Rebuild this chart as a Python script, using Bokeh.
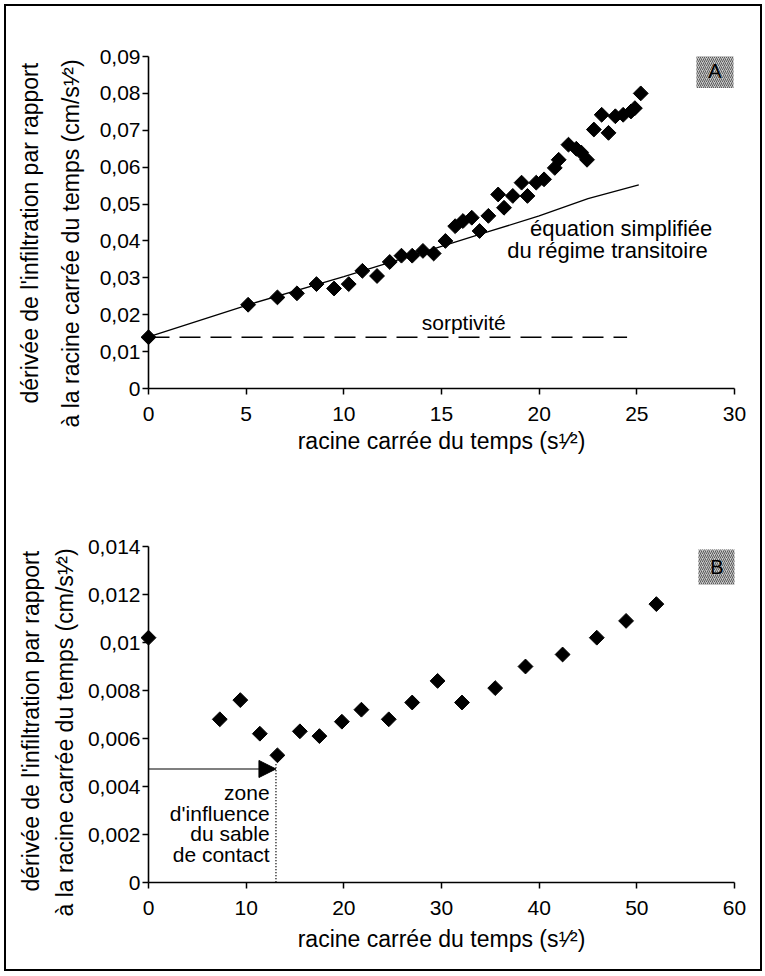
import math
from bokeh.plotting import figure
from bokeh.models import FixedTicker, Label, Arrow, NormalHead, Title
from bokeh.layouts import column
from bokeh.embed import file_html
from bokeh.resources import INLINE

# ---------------- data: panel A ----------------
a_x = [0.0, 5.1, 6.6, 7.6, 8.6, 9.5, 10.25, 10.95, 11.7, 12.35,
       12.95, 13.5, 14.05, 14.6, 15.2, 15.7, 16.1, 16.55, 16.95, 17.4,
       17.9, 18.2, 18.65, 19.1, 19.4, 19.85, 20.25, 20.8, 21.0, 21.5,
       21.9, 22.15, 22.45, 22.8, 23.2, 23.55, 23.9, 24.3, 24.7, 24.9, 25.2]
a_y = [0.0139, 0.0227, 0.0247, 0.0258, 0.0283, 0.0271, 0.0283, 0.0319, 0.0305, 0.0343,
       0.0360, 0.0360, 0.0373, 0.0366, 0.0400, 0.0440, 0.0454, 0.0463, 0.0427, 0.0468,
       0.0526, 0.0490, 0.0522, 0.0558, 0.0522, 0.0558, 0.0567, 0.0598, 0.0620, 0.0661,
       0.0650, 0.0640, 0.0620, 0.0702, 0.0742, 0.0693, 0.0738, 0.0742, 0.0751, 0.0760, 0.0800]
eq_x = [0.0, 5.1, 10.0, 15.0, 17.4, 20.0, 22.5, 25.1]
eq_y = [0.0140, 0.0227, 0.0303, 0.0385, 0.0425, 0.0468, 0.0515, 0.0552]
sorptivity = 0.0139
sorptivity_x_end = 24.5
a_xticks = [0, 5, 10, 15, 20, 25, 30]
a_yticks = [0, 0.01, 0.02, 0.03, 0.04, 0.05, 0.06, 0.07, 0.08, 0.09]
a_ylabels = ["0", "0,01", "0,02", "0,03", "0,04", "0,05", "0,06", "0,07", "0,08", "0,09"]

# ---------------- data: panel B ----------------
b_x = [0.0, 7.3, 9.4, 11.4, 13.2, 15.5, 17.5, 19.8, 21.8, 24.6,
       27.0, 29.6, 32.1, 35.5, 38.6, 42.4, 45.9, 48.9, 52.0]
b_y = [0.0102, 0.0068, 0.0076, 0.0062, 0.0053, 0.0063, 0.0061, 0.0067, 0.0072, 0.0068,
       0.0075, 0.0084, 0.0075, 0.0081, 0.0090, 0.0095, 0.0102, 0.0109, 0.0116]
zone_limit_x = 13.05
zone_arrow_y = 0.00473
b_xticks = [0, 10, 20, 30, 40, 50, 60]
b_yticks = [0, 0.002, 0.004, 0.006, 0.008, 0.01, 0.012, 0.014]
b_ylabels = ["0", "0,002", "0,004", "0,006", "0,008", "0,01", "0,012", "0,014"]

x_title = "racine carrée du temps (s\u00b9\u2044\u00b2)"
y_title_1 = "dérivée de l'infiltration par rapport"
y_title_2 = "à la racine carrée du temps  (cm/s\u00b9\u2044\u00b2)"

FONT = "Liberation Sans"
TICK_FS = "21px"
TXT_FS = "22px"
TITLE_FS = "23px"


def base_fig(width, height, xr, yr, mb):
    p = figure(width=width, height=height, x_range=xr, y_range=yr,
               output_backend="svg", toolbar_location=None,
               min_border_left=mb[0], min_border_right=mb[1],
               min_border_top=mb[2], min_border_bottom=mb[3])
    p.xgrid.visible = False
    p.ygrid.visible = False
    p.outline_line_color = None
    p.background_fill_color = "white"
    p.border_fill_color = "white"
    for ax in (p.xaxis[0], p.yaxis[0]):
        ax.axis_line_width = 1.6
        ax.axis_line_color = "black"
        ax.major_tick_line_width = 1.5
        ax.major_tick_line_color = "black"
        ax.major_tick_out = 6
        ax.major_tick_in = 0
        ax.minor_tick_line_color = None
        ax.major_label_text_font = FONT
        ax.major_label_text_font_size = TICK_FS
        ax.major_label_text_color = "black"
    p.xaxis.major_label_standoff = 12
    p.yaxis.major_label_standoff = 2
    return p


def lab(p, x, y, text, fs=TXT_FS, align="center"):
    p.add_layout(Label(x=x, y=y, text=text, text_font=FONT, text_font_size=fs,
                       text_align=align, text_baseline="middle", text_color="black"))


def titles(p, sx, s2, s1, off2, off1):
    kw = dict(text_font=FONT, text_font_size=TITLE_FS, text_font_style="normal",
              text_color="black")
    p.add_layout(Title(text=x_title, align="center", standoff=sx, **kw), "below")
    p.add_layout(Title(text=y_title_2, align="left", offset=off2, standoff=s2, **kw), "left")
    p.add_layout(Title(text=y_title_1, align="left", offset=off1, standoff=s1, **kw), "left")


# ================= panel A =================
pA = base_fig(754, 464, (0, 30), (0, 0.09), (142, 26, 50, 82))
pA.xaxis.ticker = FixedTicker(ticks=a_xticks)
pA.yaxis.ticker = FixedTicker(ticks=a_yticks)
pA.yaxis.major_label_overrides = dict(zip(a_yticks, a_ylabels))

r = pA.line(eq_x, eq_y, line_color="black", line_width=1.3)
r.level = "overlay"
r = pA.segment(x0=[0], y0=[sorptivity], x1=[sorptivity_x_end], y1=[sorptivity],
               line_color="black", line_width=1.6, line_dash="21 10")
r.level = "overlay"
r = pA.scatter(a_x, a_y, marker="square", angle=math.pi / 4, size=10.5,
               fill_color="black", line_color="black")
r.level = "overlay"

pA.rect(x=[29.0], y=[0.0862], width=37, height=35, width_units="screen",
        height_units="screen", fill_color="#c8c8c8", line_color=None,
        hatch_pattern="/", hatch_color="black", hatch_alpha=0.55,
        hatch_scale=4, hatch_weight=1)
lab(pA, 29.0, 0.0862, "A", fs="20px")

lab(pA, 16.14, 0.0179, "sorptivité", fs="21px")
lab(pA, 24.2, 0.0434, "équation simplifiée")
lab(pA, 23.5, 0.0374, "du régime transitoire")
titles(pA, 5, 26, 0, -39, -15)

# ================= panel B =================
pB = base_fig(754, 499, (0, 60), (0, 0.014), (142, 26, 76, 87))
pB.xaxis.ticker = FixedTicker(ticks=b_xticks)
pB.yaxis.ticker = FixedTicker(ticks=b_yticks)
pB.yaxis.major_label_overrides = dict(zip(b_yticks, b_ylabels))

r = pB.segment(x0=[zone_limit_x], y0=[zone_arrow_y + 0.0002], x1=[zone_limit_x], y1=[0],
               line_color="black", line_width=1.5, line_dash="1 2")
r.level = "overlay"
pB.add_layout(Arrow(end=NormalHead(size=17, fill_color="black", line_color="black"),
                    x_start=0, y_start=zone_arrow_y, x_end=zone_limit_x, y_end=zone_arrow_y,
                    line_color="black", line_width=1.2))
r = pB.scatter(b_x, b_y, marker="square", angle=math.pi / 4, size=10.5,
               fill_color="black", line_color="black")
r.level = "overlay"

pB.rect(x=[58.2], y=[0.01315], width=37, height=35, width_units="screen",
        height_units="screen", fill_color="#c8c8c8", line_color=None,
        hatch_pattern="/", hatch_color="black", hatch_alpha=0.55,
        hatch_scale=4, hatch_weight=1)
lab(pB, 58.2, 0.01315, "B", fs="20px")

for yy, t in zip([0.00375, 0.00288, 0.00204, 0.00118],
                 ["zone", "d'influence", "du sable", "de contact"]):
    lab(pB, 12.4, yy, t, fs="21px", align="right")
titles(pB, 12, 13, 0, -34, -9)

layout = column(pA, pB, styles={"border": "2px solid black", "margin": "4px 0 0 4px"})

open("out.html", "w").write(file_html(layout, INLINE))
